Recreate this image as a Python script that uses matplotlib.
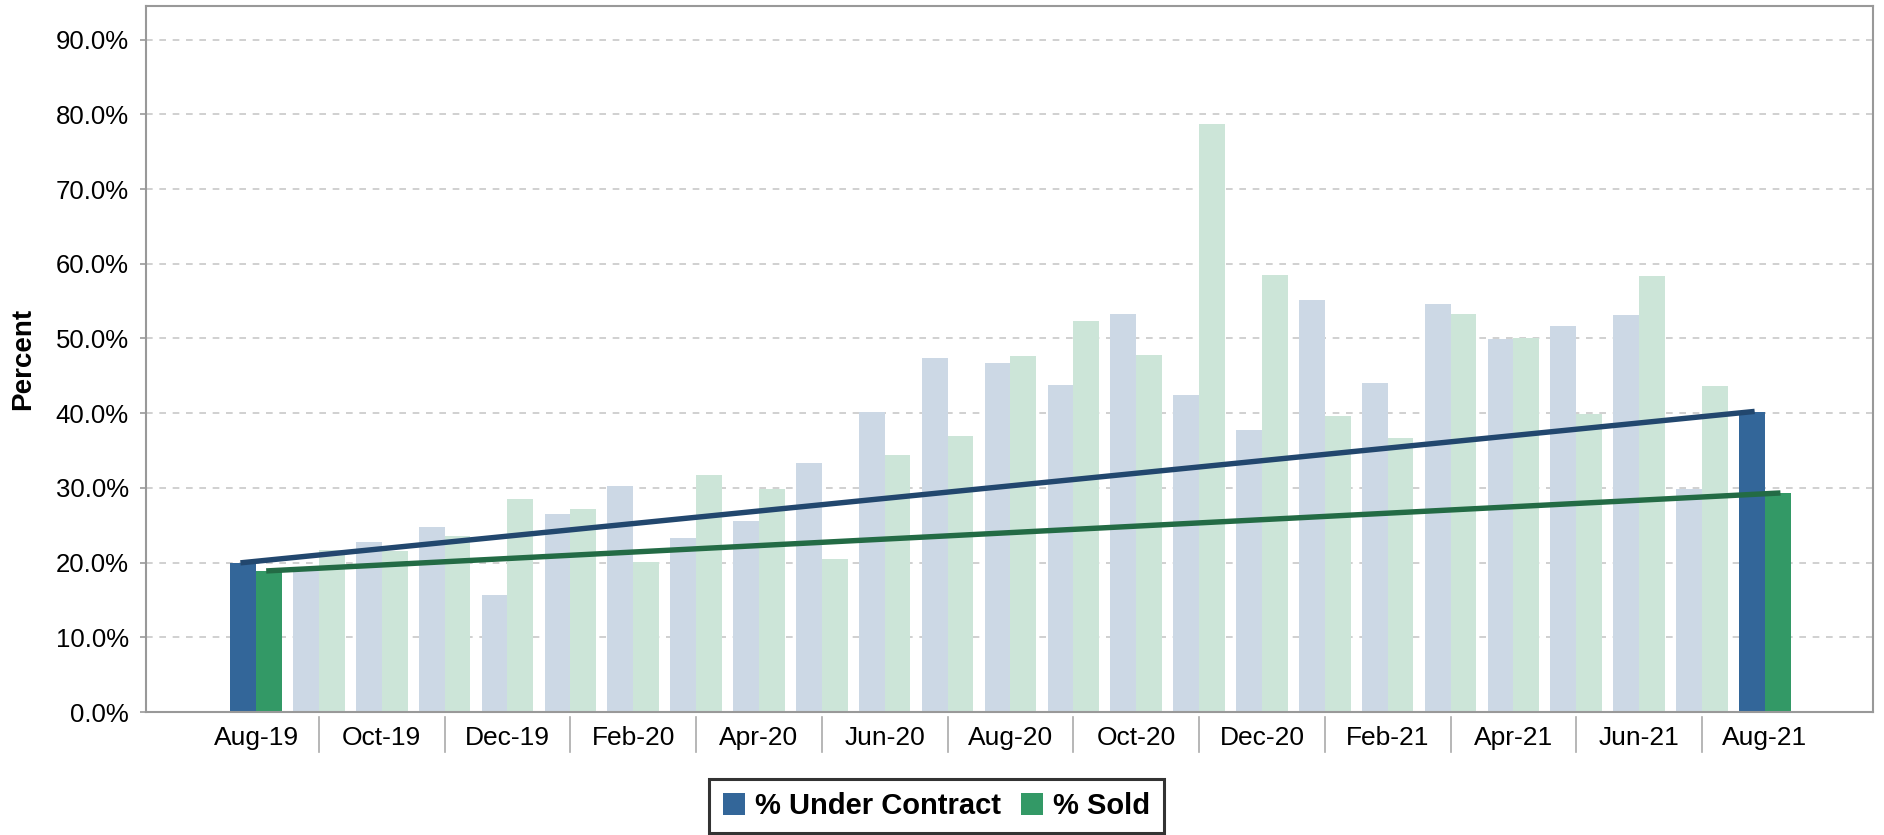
import matplotlib
matplotlib.use("Agg")
import matplotlib.pyplot as plt
import numpy as np
from matplotlib.patches import Patch
from matplotlib.transforms import blended_transform_factory

plt.rcParams['font.family'] = ['Liberation Sans', 'DejaVu Sans']

months = ["Aug-19", "Sep-19", "Oct-19", "Nov-19", "Dec-19", "Jan-20", "Feb-20",
          "Mar-20", "Apr-20", "May-20", "Jun-20", "Jul-20", "Aug-20", "Sep-20",
          "Oct-20", "Nov-20", "Dec-20", "Jan-21", "Feb-21", "Mar-21", "Apr-21",
          "May-21", "Jun-21", "Jul-21", "Aug-21"]
under_contract = [20.0, 19.0, 22.8, 24.8, 15.7, 26.5, 30.3, 23.3, 25.6, 33.3,
                  40.2, 47.4, 46.7, 43.8, 53.3, 42.4, 37.7, 55.2, 44.1, 54.6,
                  49.9, 51.7, 53.2, 29.9, 40.2]
sold = [18.9, 21.7, 21.6, 23.6, 28.5, 27.2, 20.1, 31.7, 29.9, 20.5,
        34.4, 37.0, 47.6, 52.4, 47.8, 78.7, 58.5, 39.6, 36.7, 53.3,
        50.0, 39.9, 58.4, 43.7, 29.3]
y_ticks = [0, 10, 20, 30, 40, 50, 60, 70, 80, 90]

BLUE = "#336699"
GREEN = "#339966"
BLUE_LIGHT = "#CCD8E5"
GREEN_LIGHT = "#CCE5D8"
BLUE_LINE = "#22476E"
GREEN_LINE = "#236B45"

fig = plt.figure(figsize=(18.84, 8.35), dpi=100)
ax = fig.add_axes([146 / 1884, 1 - 712 / 835, (1873 - 146) / 1884, (712 - 6) / 835])

n = len(months)
x = np.arange(n)
w = 0.41
highlight = [i in (0, n - 1) for i in range(n)]
uc_colors = [BLUE if h else BLUE_LIGHT for h in highlight]
sd_colors = [GREEN if h else GREEN_LIGHT for h in highlight]

ax.bar(x - w / 2, under_contract, width=w, color=uc_colors, zorder=2, linewidth=0)
ax.bar(x + w / 2, sold, width=w, color=sd_colors, zorder=2, linewidth=0)

# trend lines between first and last month
ax.plot([x[0] - w / 2, x[-1] - w / 2], [under_contract[0], under_contract[-1]],
        color=BLUE_LINE, lw=3.9, zorder=3, solid_capstyle='projecting')
ax.plot([x[0] + w / 2, x[-1] + w / 2], [sold[0], sold[-1]],
        color=GREEN_LINE, lw=3.9, zorder=3, solid_capstyle='projecting')

ax.set_xlim(-1.75, n - 1 + 1.72)
ax.set_ylim(0, 94.5)
ax.set_yticks(y_ticks)
ax.set_yticklabels([f"{v:.1f}%" for v in y_ticks], fontsize=18.5)
ax.yaxis.grid(True, color="#C8C8C8", linestyle=(0, (4, 4)), linewidth=1.2, zorder=0)
ax.set_axisbelow(True)

ax.set_xticks(x[::2])
ax.set_xticklabels(months[::2], fontsize=19)
ax.tick_params(axis='x', length=0, pad=10)
ax.tick_params(axis='y', length=4.5, width=1.2, color="#999999", pad=8)

for s in ax.spines.values():
    s.set_color("#999999")
    s.set_linewidth(1.5)

# separators between labelled months
trans = blended_transform_factory(ax.transData, ax.transAxes)
for i in range(1, n - 1, 2):
    ax.plot([x[i], x[i]], [-5 / 706, -40 / 706], transform=trans, color="#AAAAAA",
            lw=1.2, clip_on=False)

ax.set_ylabel("Percent", fontsize=20, fontweight='bold', labelpad=14)

handles = [Patch(facecolor=BLUE, edgecolor='none', label="% Under Contract"),
           Patch(facecolor=GREEN, edgecolor='none', label="% Sold")]
leg = fig.legend(handles=handles, loc='upper center', ncol=2,
                 bbox_to_anchor=(936.5 / 1884, 1 - 779 / 835),
                 bbox_transform=fig.transFigure,
                 prop={'size': 21, 'weight': 'bold'}, frameon=True, fancybox=False,
                 handlelength=0.77, handleheight=0.77, handletextpad=0.35,
                 columnspacing=0.67, borderpad=0.45, borderaxespad=0)
leg.get_frame().set_edgecolor("black")
leg.get_frame().set_linewidth(2.2)

fig.savefig("out.png", dpi=100)
